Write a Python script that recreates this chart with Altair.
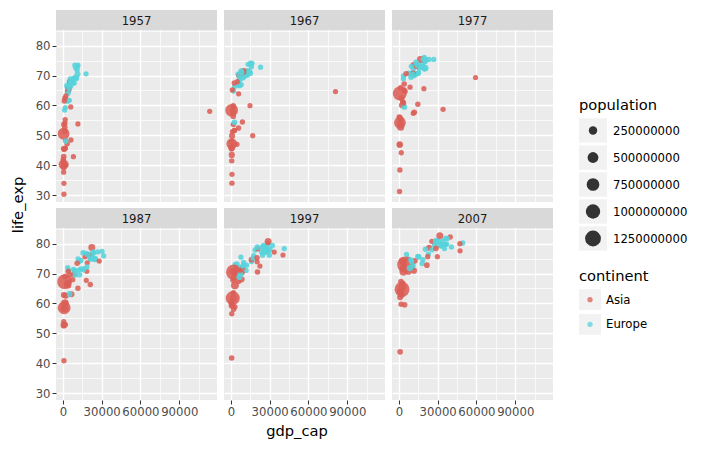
import altair as alt
import pandas as pd

YEARS = [1957, 1967, 1977, 1987, 1997, 2007]

COUNTRIES = [
    "Afghanistan", "Albania", "Austria", "Bahrain", "Bangladesh", "Belgium",
    "Bosnia and Herzegovina", "Bulgaria", "Cambodia", "China", "Croatia",
    "Czech Republic", "Denmark", "Finland", "France", "Germany", "Greece",
    "Hong Kong, China", "Hungary", "Iceland", "India", "Indonesia", "Iran",
    "Iraq", "Ireland", "Israel", "Italy", "Japan", "Jordan", "Korea, Dem. Rep.",
    "Korea, Rep.", "Kuwait", "Lebanon", "Malaysia", "Mongolia", "Montenegro",
    "Myanmar", "Nepal", "Netherlands", "Norway", "Oman", "Pakistan",
    "Philippines", "Poland", "Portugal", "Romania", "Saudi Arabia", "Serbia",
    "Singapore", "Slovak Republic", "Slovenia", "Spain", "Sri Lanka", "Sweden",
    "Switzerland", "Syria", "Taiwan", "Thailand", "Turkey", "United Kingdom",
    "Vietnam", "West Bank and Gaza", "Yemen, Rep.",
]
CONTINENT = [
    "Asia", "Europe", "Europe", "Asia", "Asia", "Europe", "Europe", "Europe",
    "Asia", "Asia", "Europe", "Europe", "Europe", "Europe", "Europe", "Europe",
    "Europe", "Asia", "Europe", "Europe", "Asia", "Asia", "Asia", "Asia",
    "Europe", "Asia", "Europe", "Asia", "Asia", "Asia", "Asia", "Asia", "Asia",
    "Asia", "Asia", "Europe", "Asia", "Asia", "Europe", "Europe", "Asia", "Asia",
    "Asia", "Europe", "Europe", "Europe", "Asia", "Europe", "Asia", "Europe",
    "Europe", "Europe", "Asia", "Europe", "Europe", "Asia", "Asia", "Asia",
    "Europe", "Europe", "Asia", "Asia", "Asia",
]

GDP_1957 = [821, 1942, 8843, 11636, 662, 9715, 1354, 3008, 434, 576, 4339, 8257, 11100, 7546, 8663, 10188, 4916, 3630, 6040, 9244, 590, 859, 3290, 6229, 5599, 5385, 6249, 4318, 1886, 1576, 1488, 113523, 6090, 1810, 913, 3683, 350, 597, 11277, 11654, 2242, 747, 1548, 4734, 3775, 4003, 8157, 4981, 2316, 6093, 5862, 4564, 1072, 9912, 17909, 2047, 1547, 794, 2219, 11283, 676, 1827, 804]
GDP_1967 = [836, 2760, 12835, 14805, 721, 13149, 2172, 5578, 523, 613, 6960, 11399, 15937, 10922, 12999, 14746, 8513, 6198, 9326, 13320, 700, 762, 5907, 8931, 7656, 8394, 10022, 9847, 2741, 1837, 2029, 80895, 6006, 2278, 1227, 5907, 349, 676, 15363, 16362, 4721, 943, 1815, 6598, 6362, 6471, 16903, 7991, 4977, 8412, 9405, 7994, 1136, 15259, 22966, 1882, 2643, 1296, 2826, 14143, 637, 2650, 863]
GDP_1977 = [786, 3533, 19749, 19340, 660, 19118, 3528, 7612, 525, 741, 11305, 14800, 20423, 15605, 18293, 20513, 14196, 11186, 11675, 19655, 813, 1383, 11889, 14689, 11151, 13306, 14256, 16610, 2852, 4106, 4657, 59265, 8659, 3828, 1648, 9595, 371, 695, 21209, 23311, 11138, 1175, 2373, 9508, 10172, 9356, 34168, 12980, 11210, 10922, 15277, 13237, 1348, 18856, 26982, 3195, 5597, 1961, 4269, 17429, 713, 3682, 1829]
GDP_1987 = [852, 3739, 23688, 18524, 752, 22526, 4315, 8239, 684, 1379, 13822, 16310, 25116, 21141, 22066, 24639, 17737, 20038, 12986, 26923, 977, 1517, 6642, 11644, 13873, 17123, 19207, 22376, 4448, 4106, 8533, 28118, 7640, 5598, 2339, 11733, 385, 775, 23651, 31541, 18116, 1705, 2189, 9082, 13039, 9696, 21199, 15870, 18862, 12037, 18679, 15765, 1877, 23587, 30282, 3116, 11054, 2983, 5090, 21665, 821, 4336, 1972]
GDP_1997 = [635, 3193, 29096, 20292, 973, 27561, 4766, 5970, 734, 2289, 9876, 16049, 29804, 23724, 25890, 27789, 18748, 28378, 11712, 28061, 1459, 3119, 8264, 3076, 24522, 20897, 24675, 28817, 3645, 1690, 15994, 40301, 8755, 9051, 1902, 7779, 415, 1010, 30246, 41283, 22480, 2049, 2537, 10160, 17641, 7347, 20587, 7915, 33519, 12126, 17161, 20445, 2664, 25267, 32135, 4014, 20207, 5853, 6601, 26075, 1386, 7111, 2117]
GDP_2007 = [975, 5937, 36126, 29796, 1391, 33693, 7446, 10681, 1714, 4959, 14619, 22833, 35278, 33207, 30470, 32170, 27538, 39725, 18009, 36181, 2452, 3541, 11606, 4471, 40676, 25523, 28570, 31656, 4519, 1593, 23348, 47307, 10461, 12452, 3096, 9254, 944, 1091, 36798, 49357, 22316, 2606, 3190, 15390, 20510, 10808, 21655, 9787, 47143, 18678, 25768, 28821, 3970, 33860, 37506, 4185, 28718, 7458, 8458, 33203, 2442, 3025, 2281]

LIFE_1957 = [30.33, 59.28, 67.48, 53.83, 39.35, 69.24, 58.45, 66.61, 41.37, 50.55, 64.77, 69.03, 71.81, 67.49, 68.93, 69.1, 67.86, 64.75, 66.41, 73.47, 40.25, 39.92, 47.18, 48.44, 68.9, 67.84, 67.81, 65.5, 45.67, 54.08, 52.68, 58.03, 59.49, 55.2, 45.25, 61.45, 41.9, 37.68, 72.99, 73.44, 40.08, 45.56, 51.33, 65.77, 61.51, 64.1, 42.87, 61.69, 63.18, 67.45, 67.85, 66.66, 61.46, 72.49, 70.56, 48.28, 62.4, 53.63, 48.08, 70.42, 42.89, 45.67, 33.97]
LIFE_1967 = [34.02, 66.22, 70.14, 59.92, 43.45, 70.94, 64.79, 70.42, 45.42, 58.38, 68.5, 70.38, 72.96, 69.83, 71.55, 70.8, 71.0, 69.9, 69.5, 73.73, 47.19, 45.96, 52.47, 54.46, 71.08, 70.75, 71.06, 71.43, 51.63, 59.94, 57.72, 64.62, 63.87, 59.37, 51.25, 67.18, 45.8, 41.47, 73.82, 74.08, 46.99, 49.8, 56.39, 69.61, 66.6, 66.8, 49.9, 66.91, 67.95, 70.98, 69.18, 71.44, 65.15, 74.16, 72.77, 53.66, 67.5, 58.29, 54.34, 71.36, 47.84, 51.63, 36.98]
LIFE_1977 = [38.44, 68.93, 72.17, 65.59, 46.92, 72.8, 69.86, 70.81, 31.22, 63.97, 70.64, 70.71, 74.69, 72.52, 73.83, 72.5, 73.68, 73.6, 69.95, 76.11, 54.21, 52.7, 57.7, 60.41, 72.03, 73.06, 73.48, 75.38, 61.13, 67.16, 64.77, 69.34, 66.1, 65.26, 55.49, 73.07, 56.1, 46.75, 75.24, 75.37, 57.37, 54.04, 60.06, 70.67, 70.41, 69.46, 58.69, 70.3, 70.8, 70.45, 70.97, 74.39, 65.95, 75.44, 75.39, 61.2, 70.59, 62.49, 59.51, 72.76, 55.76, 60.77, 44.18]
LIFE_1987 = [40.82, 72.0, 74.94, 70.75, 52.82, 75.35, 71.14, 71.34, 53.91, 67.27, 71.52, 71.58, 74.8, 74.83, 76.34, 74.85, 76.67, 76.2, 69.58, 77.23, 58.55, 60.14, 63.04, 65.04, 74.36, 75.6, 76.42, 78.67, 65.87, 70.65, 69.81, 74.17, 67.93, 69.5, 60.22, 74.86, 58.3, 52.54, 76.83, 75.89, 67.73, 58.25, 62.55, 70.98, 74.06, 69.53, 66.3, 71.22, 73.56, 71.08, 72.25, 76.9, 69.01, 77.19, 77.41, 66.97, 73.4, 66.08, 63.11, 75.01, 62.82, 67.05, 52.92]
LIFE_1997 = [41.76, 72.95, 77.51, 73.93, 59.41, 77.53, 73.24, 70.32, 56.53, 70.43, 73.68, 74.01, 76.11, 77.13, 78.64, 77.34, 77.87, 80.0, 71.04, 78.95, 61.77, 66.04, 68.04, 58.81, 76.12, 78.27, 78.82, 80.69, 69.77, 67.73, 74.65, 76.16, 70.26, 71.94, 63.63, 75.45, 60.3, 59.43, 78.03, 78.32, 72.5, 61.82, 68.56, 72.75, 75.97, 69.72, 70.53, 72.23, 77.16, 72.8, 75.13, 78.77, 70.46, 79.39, 79.37, 71.53, 75.25, 67.52, 68.84, 77.22, 70.67, 71.1, 58.02]
LIFE_2007 = [43.83, 76.42, 79.83, 75.64, 64.06, 79.44, 74.85, 73.0, 59.72, 72.96, 75.75, 76.49, 78.33, 79.31, 80.66, 79.41, 79.48, 82.21, 73.34, 81.76, 64.7, 70.65, 70.96, 59.55, 78.89, 80.75, 80.55, 82.6, 72.54, 67.3, 78.62, 77.59, 71.99, 74.24, 66.8, 74.54, 62.07, 63.78, 79.76, 80.2, 75.64, 65.48, 71.69, 75.56, 78.1, 72.48, 72.78, 74.0, 79.97, 74.66, 77.93, 80.94, 72.4, 80.88, 81.7, 74.14, 78.4, 70.62, 71.78, 79.43, 74.25, 73.42, 62.7]

# population, millions
POP_1957 = [9.24, 1.48, 6.97, 0.14, 51.37, 8.99, 3.08, 7.65, 4.76, 637.41, 3.99, 9.51, 4.49, 4.3, 44.31, 71.02, 8.1, 2.74, 9.84, 0.17, 409.0, 90.12, 19.79, 6.25, 2.88, 1.94, 49.18, 91.56, 0.75, 9.41, 22.61, 0.21, 1.65, 7.74, 0.88, 0.44, 21.73, 9.68, 11.03, 3.49, 0.56, 46.68, 26.07, 28.24, 8.82, 17.83, 4.42, 7.27, 1.45, 3.84, 1.53, 29.84, 9.13, 7.36, 5.13, 4.15, 10.16, 25.04, 25.67, 51.43, 28.99, 1.07, 5.5]
POP_1967 = [11.54, 1.98, 7.38, 0.19, 62.82, 9.56, 3.59, 8.31, 6.96, 754.55, 4.33, 9.84, 4.84, 4.6, 49.94, 76.37, 8.72, 3.72, 10.22, 0.2, 506.0, 109.34, 26.54, 8.52, 2.9, 2.69, 52.67, 100.83, 1.26, 12.62, 30.0, 0.58, 2.19, 10.15, 1.15, 0.5, 25.87, 11.26, 12.6, 3.79, 0.71, 60.64, 35.36, 31.79, 9.1, 19.28, 5.62, 7.94, 1.98, 4.44, 1.65, 32.85, 11.74, 7.87, 6.06, 5.68, 13.65, 34.02, 33.41, 54.96, 39.46, 1.14, 6.74]
POP_1977 = [14.88, 2.51, 7.57, 0.3, 80.43, 9.82, 4.09, 8.8, 6.98, 943.46, 4.32, 10.16, 5.09, 4.74, 53.17, 78.16, 9.31, 4.58, 10.64, 0.22, 634.0, 136.73, 35.48, 11.88, 3.27, 3.5, 56.06, 113.87, 1.94, 16.33, 36.44, 1.14, 3.12, 12.85, 1.53, 0.56, 31.53, 13.93, 13.85, 4.04, 1.0, 78.15, 46.85, 34.62, 9.66, 21.66, 8.13, 8.69, 2.33, 4.83, 1.75, 36.44, 14.12, 8.25, 6.32, 7.93, 16.79, 44.15, 42.4, 56.18, 50.53, 1.26, 8.4]
POP_1987 = [13.87, 3.08, 7.58, 0.45, 103.76, 9.87, 4.34, 8.97, 8.37, 1084.04, 4.48, 10.31, 5.13, 4.93, 56.0, 77.72, 9.97, 5.58, 10.6, 0.24, 788.0, 169.28, 51.89, 16.54, 3.54, 4.08, 56.73, 122.09, 2.82, 19.07, 41.62, 1.89, 3.0, 16.33, 2.02, 0.57, 38.03, 17.46, 14.67, 4.19, 1.59, 105.19, 60.02, 37.74, 9.92, 22.69, 14.2, 9.23, 2.79, 5.2, 1.94, 38.88, 16.5, 8.42, 6.7, 11.0, 19.76, 52.54, 52.88, 56.98, 62.83, 1.69, 11.22]
POP_1997 = [22.23, 3.43, 8.07, 0.6, 123.32, 10.2, 3.61, 8.07, 11.78, 1230.08, 4.44, 10.3, 5.28, 5.13, 58.62, 82.01, 10.5, 6.5, 10.24, 0.27, 959.0, 199.28, 63.46, 20.78, 3.67, 5.53, 57.48, 125.57, 4.53, 21.59, 46.17, 1.77, 3.43, 20.48, 2.49, 0.69, 43.25, 23.0, 15.6, 4.41, 2.3, 135.56, 75.01, 38.65, 10.16, 22.56, 21.23, 10.34, 3.8, 5.38, 2.01, 39.86, 18.7, 8.9, 7.19, 15.08, 21.63, 60.28, 63.05, 58.81, 76.05, 2.83, 15.83]
POP_2007 = [31.89, 3.6, 8.2, 0.71, 150.45, 10.39, 4.55, 7.32, 14.13, 1318.68, 4.49, 10.23, 5.47, 5.24, 61.08, 82.4, 10.71, 6.98, 9.96, 0.3, 1110.4, 223.55, 69.45, 27.5, 4.11, 6.43, 58.15, 127.47, 6.05, 23.3, 49.04, 2.51, 3.92, 24.82, 2.87, 0.68, 47.76, 28.9, 16.57, 4.63, 3.2, 169.27, 91.08, 38.52, 10.64, 22.28, 27.6, 10.15, 4.55, 5.45, 2.01, 40.45, 20.38, 9.03, 7.55, 19.31, 23.17, 65.07, 71.16, 60.78, 85.26, 4.02, 22.21]

X_TICKS = [0, 15000, 30000, 45000, 60000, 75000, 90000, 105000]
Y_TICKS = [30, 35, 40, 45, 50, 55, 60, 65, 70, 75, 80, 85]
POP_LEGEND = [250000000, 500000000, 750000000, 1000000000, 1250000000]
CONTINENTS = ["Asia", "Europe"]
COLORS = ["#DB5F57", "#57D3DB"]

GDP = dict(zip(YEARS, [GDP_1957, GDP_1967, GDP_1977, GDP_1987, GDP_1997, GDP_2007]))
LIFE = dict(zip(YEARS, [LIFE_1957, LIFE_1967, LIFE_1977, LIFE_1987, LIFE_1997, LIFE_2007]))
POP = dict(zip(YEARS, [POP_1957, POP_1967, POP_1977, POP_1987, POP_1997, POP_2007]))

rows = []
for yr in YEARS:
    assert len(GDP[yr]) == len(LIFE[yr]) == len(POP[yr]) == len(COUNTRIES) == len(CONTINENT)
    for c, ct, g, l, p in zip(COUNTRIES, CONTINENT, GDP[yr], LIFE[yr], POP[yr]):
        rows.append({"year": str(yr), "country": c, "continent": ct,
                     "gdp_cap": g, "life_exp": l, "population": p * 1e6})
df = pd.DataFrame(rows)

# layout
PW = 161
PLOT_H = 172
STRIP_H = 20
PH = PLOT_H + STRIP_H
FONT = "DejaVu Sans"

# ggplot-like expanded domains (5%)
gmin, gmax = df.gdp_cap.min(), df.gdp_cap.max()
lmin, lmax = df.life_exp.min(), df.life_exp.max()
XDOM = [gmin - 0.05 * (gmax - gmin), gmax + 0.05 * (gmax - gmin)]
YLO, YHI = lmin - 0.05 * (lmax - lmin), lmax + 0.05 * (lmax - lmin)
YDOM = [YLO, YHI + STRIP_H * (YHI - YLO) / PLOT_H]  # room for the strip on top

SIZE_SCALE = alt.Scale(type="linear", domain=[0, df.population.max()], range=[27, 262], zero=True)
COLOR_SCALE = alt.Scale(domain=CONTINENTS, range=COLORS)


def x_axis(show, title):
    kw = dict(values=X_TICKS, format="d", grid=True, gridColor="white",
              gridWidth={"condition": {"test": "datum.value % 30000 === 0", "value": 1.4}, "value": 0.7},
              domain=False, ticks=show, labels=show, tickColor="#333333", tickSize=4, tickWidth=1,
              tickOpacity={"condition": {"test": "datum.value % 30000 === 0", "value": 1}, "value": 0},
              labelExpr="datum.value % 30000 === 0 ? datum.label : ''",
              labelFontSize=11.7, labelColor="#4D4D4D", labelFont=FONT, labelPadding=2,
              labelOverlap=False, labelFlush=False)
    if title:
        kw.update(title=title, titleFontSize=14.67, titleFont=FONT, titleFontWeight="normal",
                  titleColor="black", titlePadding=6, titleX=PW / 2 - 8)
    else:
        kw.update(title=None)
    return alt.Axis(**kw)


def y_axis(show):
    return alt.Axis(values=Y_TICKS, grid=True, gridColor="white",
                    gridWidth={"condition": {"test": "datum.value % 10 === 0", "value": 1.4}, "value": 0.7},
                    domain=False, ticks=show, labels=show, tickColor="#333333", tickSize=4, tickWidth=1,
                    tickOpacity={"condition": {"test": "datum.value % 10 === 0", "value": 1}, "value": 0},
                    labelExpr="datum.value % 10 === 0 ? datum.label : ''",
                    labelFontSize=11.7, labelColor="#4D4D4D", labelFont=FONT, labelPadding=2,
                    labelOverlap=False, labelFlush=False, title=None)


def panel(yr, r, c):
    d = df[df.year == str(yr)]
    pts = alt.Chart(d).mark_circle(opacity=0.88).encode(
        x=alt.X("gdp_cap:Q", scale=alt.Scale(domain=XDOM, nice=False, zero=False),
                axis=x_axis(r == 1, "gdp_cap" if (r == 1 and c == 1) else None)),
        y=alt.Y("life_exp:Q", scale=alt.Scale(domain=YDOM, nice=False, zero=False),
                axis=y_axis(c == 0)),
        size=alt.Size("population:Q", scale=SIZE_SCALE, legend=None),
        color=alt.Color("continent:N", scale=COLOR_SCALE, legend=None),
    )
    sd = pd.DataFrame({"year": [str(yr)]})
    strip_bg = alt.Chart(sd).mark_rect(fill="#D9D9D9").encode(
        x=alt.value(0), x2=alt.value(PW), y=alt.value(0), y2=alt.value(STRIP_H))
    strip_tx = alt.Chart(sd).mark_text(fontSize=11.7, color="#1A1A1A", font=FONT).encode(
        x=alt.value(PW / 2), y=alt.value(STRIP_H / 2 + 0.5), text="year:N")
    return alt.layer(pts, strip_bg, strip_tx).properties(
        width=PW, height=PH, view=alt.ViewBackground(fill="#EBEBEB", stroke=None))


row1 = alt.hconcat(*[panel(y, 0, i) for i, y in enumerate(YEARS[:3])], spacing=7)
row2 = alt.hconcat(*[panel(y, 1, i) for i, y in enumerate(YEARS[3:])], spacing=7)
grid = alt.vconcat(row1, row2, spacing=6)

GRID_H = 2 * PH + 6
ytitle = alt.Chart(pd.DataFrame({"t": ["life_exp"]})).mark_text(
    angle=270, fontSize=14.67, font=FONT, color="black").encode(
    text="t:N", x=alt.value(7), y=alt.value(GRID_H / 2)).properties(width=14, height=GRID_H)

left = alt.hconcat(ytitle, grid, spacing=9)

# legend (ggplot style keys)
SPACER_H = 71
spacer = alt.Chart(pd.DataFrame({"v": [0]})).mark_rect(opacity=0).encode(
    x=alt.value(0), x2=alt.value(1), y=alt.value(0), y2=alt.value(SPACER_H)).properties(width=1, height=SPACER_H)

pl = pd.DataFrame({"population": POP_LEGEND, "label": [str(v) for v in POP_LEGEND]})
pl_y = alt.Y("label:N", sort=None, axis=None, scale=alt.Scale(paddingInner=0.1, paddingOuter=0.05))
pop_box = alt.Chart(pl).mark_rect(fill="#F2F2F2").encode(x=alt.value(0), x2=alt.value(28), y=pl_y)
pop_dot = alt.Chart(pl).mark_circle(color="#333333", opacity=1).encode(
    x=alt.value(14), y=pl_y, size=alt.Size("population:Q", scale=SIZE_SCALE, legend=None))
pop_txt = alt.Chart(pl).mark_text(align="left", fontSize=11.7, font=FONT, color="black").encode(
    x=alt.value(34), y=pl_y, text="label:N")
pop_leg = alt.layer(pop_box, pop_dot, pop_txt).properties(
    width=28, height=135,
    title=alt.TitleParams("population", anchor="start", fontSize=14.67, font=FONT,
                          fontWeight="normal", color="black", offset=4))

cl = pd.DataFrame({"continent": CONTINENTS})
cl_y = alt.Y("continent:N", sort=None, axis=None, scale=alt.Scale(paddingInner=0.16, paddingOuter=0.05))
ct_box = alt.Chart(cl).mark_rect(fill="#F2F2F2").encode(x=alt.value(0), x2=alt.value(22), y=cl_y)
ct_dot = alt.Chart(cl).mark_circle(size=28, opacity=0.75).encode(
    x=alt.value(11), y=cl_y, color=alt.Color("continent:N", scale=COLOR_SCALE, legend=None))
ct_txt = alt.Chart(cl).mark_text(align="left", fontSize=11.7, font=FONT, color="black").encode(
    x=alt.value(27), y=cl_y, text="continent:N")
ct_leg = alt.layer(ct_box, ct_dot, ct_txt).properties(
    width=22, height=48,
    title=alt.TitleParams("continent", anchor="start", fontSize=14.67, font=FONT,
                          fontWeight="normal", color="black", offset=4))

legend = alt.vconcat(spacer, pop_leg, ct_leg, spacing=17)

chart = alt.hconcat(left, legend, spacing=26).properties(
    padding={"left": 3, "top": 2, "right": 0, "bottom": 0}
).configure(font=FONT).configure_view(stroke=None)

chart.save("out.html", embed_options={"renderer": "svg", "actions": False})
